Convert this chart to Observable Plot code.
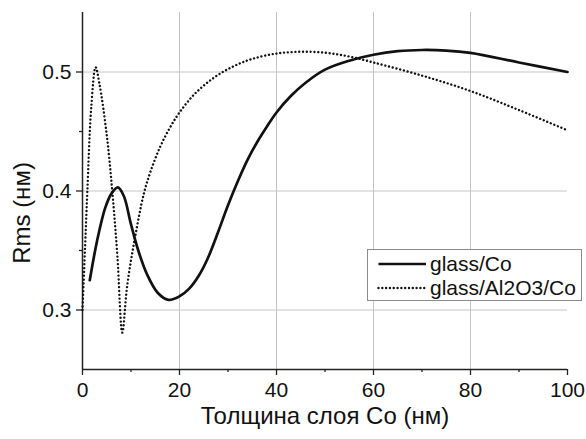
<!DOCTYPE html>
<html>
<head>
<meta charset="utf-8">
<script src="https://cdn.jsdelivr.net/npm/d3@7"></script>
<script src="https://cdn.jsdelivr.net/npm/@observablehq/plot@0.6"></script>
<style>
  html, body { margin: 0; padding: 0; background: #fff; }
  #wrap { position: relative; width: 586px; height: 439px; font-family: "Liberation Sans", Arial, sans-serif; }
  #legend { position: absolute; left: 367px; top: 249px; width: 213px; height: 50px; border: 1px solid #8a8a8a; background: #fff; box-sizing: content-box; }
  .row { position: absolute; left: 0; height: 24px; display: flex; align-items: center; font-size: 21px; color: #111; white-space: nowrap; }
  .row svg { margin-left: 9px; margin-right: 3px; }
</style>
</head>
<body>
<div id="wrap"></div>
<script>
// Series: glass/Co (solid)
const thicknessGlassCo = [1.5, 3, 4.7, 6, 7.3, 8.5, 10, 11.5, 13.3, 15.5, 17.7, 20, 22, 24, 26, 28, 30, 32, 34, 36, 38, 40, 43, 46, 50, 55, 60, 65, 70, 75, 80, 90, 100];
const rmsGlassCo       = [0.325, 0.358, 0.386, 0.398, 0.403, 0.396, 0.372, 0.350, 0.330, 0.3145, 0.3085, 0.3115, 0.318, 0.329, 0.345, 0.366, 0.388, 0.408, 0.426, 0.441, 0.454, 0.466, 0.480, 0.491, 0.502, 0.5095, 0.5145, 0.5175, 0.5185, 0.518, 0.516, 0.508, 0.500];
// Series: glass/Al2O3/Co (dotted)
const thicknessGlassAl = [0, 0.5, 1, 1.8, 2.7, 3.5, 5, 6.2, 7.2, 8.2, 9.2, 10.7, 12.6, 14, 16, 18, 20, 23, 27, 31, 35, 40, 45, 50, 55, 60, 70, 80, 90, 100];
const rmsGlassAl       = [0.30, 0.35, 0.40, 0.47, 0.504, 0.49, 0.447, 0.397, 0.345, 0.281, 0.32, 0.358, 0.397, 0.416, 0.437, 0.453, 0.466, 0.481, 0.495, 0.5045, 0.511, 0.5155, 0.517, 0.5162, 0.513, 0.508, 0.497, 0.484, 0.468, 0.451];

const seriesNames = ["glass/Co", "glass/Al2O3/Co"];
const xMajorTicks = [0, 20, 40, 60, 80, 100];
const xMinorTicks = [10, 30, 50, 70, 90];
const yMajorTicks = [0.3, 0.4, 0.5];
const yMinorTicks = [0.35, 0.45];
const xGrid = [20, 40, 60, 80];
const xTitle = "Толщина слоя Co (нм)";
const yTitle = "Rms (нм)";

const dataCo = thicknessGlassCo.map((x, i) => ({x, y: rmsGlassCo[i]}));
const dataAl = thicknessGlassAl.map((x, i) => ({x, y: rmsGlassAl[i]}));

const axisColor = "#222";
const gridColor = "#c4c4c4";
const dotDash = "0.01 3.8";

const chart = Plot.plot({
  width: 586,
  height: 439,
  marginLeft: 82,
  marginRight: 19,
  marginTop: 12,
  marginBottom: 70,
  x: {domain: [0, 100]},
  y: {domain: [0.25, 0.55]},
  style: {fontFamily: "'Liberation Sans', Arial, sans-serif", fontSize: "21px", background: "white", color: "#111"},
  marks: [
    Plot.gridX(xGrid, {stroke: gridColor, strokeOpacity: 1, strokeWidth: 1}),
    Plot.gridY(yMajorTicks, {stroke: gridColor, strokeOpacity: 1, strokeWidth: 1}),
    Plot.axisX({ticks: xMajorTicks, tickSize: 6, tickPadding: 7, tickFormat: d => String(d), label: null, stroke: axisColor, strokeWidth: 1.3, fontSize: 21}),
    Plot.axisX({ticks: xMinorTicks, tickSize: 3, tickFormat: () => "", label: null, stroke: axisColor, strokeWidth: 1.3}),
    Plot.axisY({ticks: yMajorTicks, tickSize: 6, tickPadding: 5, tickFormat: d => d.toFixed(1), label: null, stroke: axisColor, strokeWidth: 1.3, fontSize: 21}),
    Plot.axisY({ticks: yMinorTicks, tickSize: 3, tickFormat: () => "", label: null, stroke: axisColor, strokeWidth: 1.3}),
    Plot.ruleY([0.25], {stroke: axisColor, strokeWidth: 1.5}),
    Plot.ruleX([0], {stroke: axisColor, strokeWidth: 1.5}),
    Plot.line(dataAl, {x: "x", y: "y", curve: "catmull-rom", stroke: "#111", strokeWidth: 2.4, strokeDasharray: dotDash, strokeLinecap: "round"}),
    Plot.line(dataCo, {x: "x", y: "y", curve: "catmull-rom", stroke: "#111", strokeWidth: 2.7}),
    Plot.text([xTitle], {frameAnchor: "bottom", dy: 47, lineAnchor: "middle", textAnchor: "middle", fontSize: 24, fill: "#111"}),
    Plot.text([yTitle], {frameAnchor: "left", rotate: -90, dx: -60, dy: 22, lineAnchor: "middle", textAnchor: "middle", fontSize: 24, fill: "#111"})
  ]
});

const wrap = document.getElementById("wrap");
wrap.appendChild(chart);

const legend = document.createElement("div");
legend.id = "legend";
const styles = [
  {dash: null, width: 2.7, cap: "butt"},
  {dash: dotDash, width: 2.4, cap: "round"}
];
seriesNames.forEach((name, i) => {
  const row = document.createElement("div");
  row.className = "row";
  row.style.top = (i === 0 ? 2 : 26) + "px";
  const s = styles[i];
  row.innerHTML = `<svg width="50" height="10"><line x1="1.5" x2="49" y1="5" y2="5" stroke="#111" stroke-width="${s.width}" stroke-linecap="${s.cap}" ${s.dash ? `stroke-dasharray="${s.dash}"` : ""}/></svg><span>${name}</span>`;
  legend.appendChild(row);
});
wrap.appendChild(legend);
</script>
</body>
</html>
